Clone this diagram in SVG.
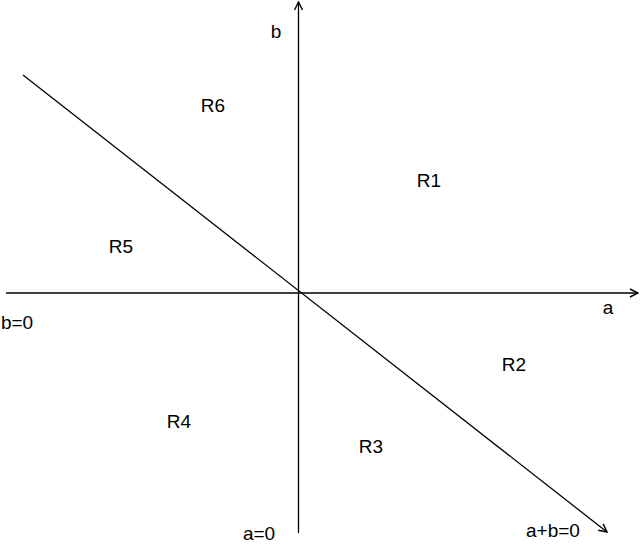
<svg xmlns="http://www.w3.org/2000/svg" width="640" height="546" viewBox="0 0 640 546">
<style>
  .ln { stroke: #000; stroke-width: 1.3; fill: none; }
  .t { font-family: "Liberation Sans", Arial, sans-serif; font-size: 19px; fill: #000; text-anchor: middle; }
</style>
<defs>
  <marker id="arr" viewBox="0 0 10 10" refX="9" refY="5" markerWidth="10" markerHeight="10" markerUnits="userSpaceOnUse" orient="auto">
    <path d="M1,1 L9,5 L1,9" fill="none" stroke="#000" stroke-width="1.4"/>
  </marker>
</defs>
<rect width="640" height="546" fill="#fff"/>
<g id="connectors">
  <line id="axis-a" class="ln" x1="6" y1="293" x2="638" y2="293" marker-end="url(#arr)"/>
  <line id="axis-b" class="ln" x1="298.5" y1="533" x2="298.5" y2="2" marker-end="url(#arr)"/>
  <line id="diag" class="ln" x1="23" y1="75" x2="607" y2="532" marker-end="url(#arr)"/>
</g>
<g id="labels">
  <text class="t" x="276" y="38">b</text>
  <text class="t" x="608" y="314">a</text>
  <text class="t" x="17" y="329">b=0</text>
  <text class="t" x="259" y="540">a=0</text>
  <text class="t" x="553" y="537">a+b=0</text>
</g>
<g id="R6"><text class="t" x="213" y="112">R6</text></g>
<g id="R1"><text class="t" x="429" y="187">R1</text></g>
<g id="R5"><text class="t" x="121" y="253">R5</text></g>
<g id="R2"><text class="t" x="514" y="371">R2</text></g>
<g id="R4"><text class="t" x="179" y="428">R4</text></g>
<g id="R3"><text class="t" x="371" y="453">R3</text></g>
</svg>
